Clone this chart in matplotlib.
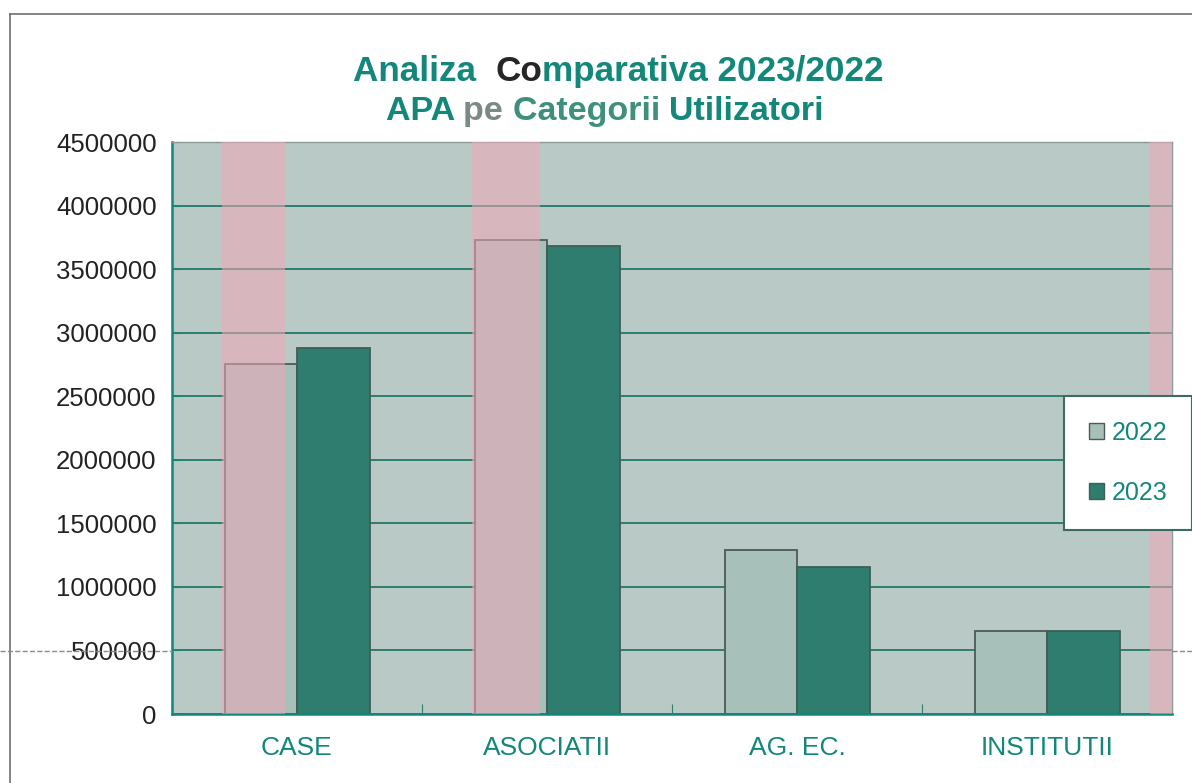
import matplotlib
matplotlib.use("Agg")
import matplotlib.pyplot as plt
from matplotlib.lines import Line2D
from matplotlib.patches import Patch
import numpy as np

categories = ["CASE", "ASOCIATII", "AG. EC.", "INSTITUTII"]
years = ["2022", "2023"]
vals_2022 = [2750000, 3730000, 1290000, 655000]
vals_2023 = [2880000, 3680000, 1160000, 652000]

teal = "#12877a"
teal_dark = "#2f7d6e"
bg = "#b9c9c5"
pink = "#f0a8ba"

plt.rcParams['font.family'] = ['Liberation Sans', 'DejaVu Sans']

fig = plt.figure(figsize=(11.92, 7.83), dpi=100)
ax = fig.add_axes([172/1192, 69/783, 1000/1192, 572/783])
ax.set_facecolor(bg)

x = np.arange(len(categories))
w = 0.29
ax.bar(x - w/2, vals_2022, w, color="#a7c0ba", edgecolor="#4d5b58", linewidth=1.3, zorder=2)
ax.bar(x + w/2, vals_2023, w, color=teal_dark, edgecolor="#3f5e57", linewidth=1.3, zorder=2)

# scan tint stripes
for a, b in [(-0.30, -0.05), (0.70, 0.97), (3.41, 3.5)]:
    ax.axvspan(a, b, color=pink, alpha=0.55, lw=0, zorder=3)

ax.set_xlim(-0.5, 3.5)
ax.set_ylim(0, 4500000)
ax.set_yticks(np.arange(0, 4500001, 500000))
ax.set_yticklabels([str(v) for v in range(0, 4500001, 500000)], fontsize=18.5, color="#222222")
ax.yaxis.grid(True, color="#2c7e6e", linewidth=1.4, zorder=1)
ax.set_axisbelow(True)
ax.tick_params(axis='y', direction='in', length=6, color=teal, pad=11)

ax.set_xticks([0.5, 1.5, 2.5])
ax.set_xticklabels([])
ax.tick_params(axis='x', which='major', direction='in', length=7, color=teal_dark)
ax.set_xticks(x, minor=True)
ax.set_xticklabels(categories, minor=True, fontsize=19, color=teal)
ax.tick_params(axis='x', which='minor', length=0, pad=16)

ax.spines['left'].set_color(teal)
ax.spines['left'].set_linewidth(1.8)
ax.spines['bottom'].set_color(teal)
ax.spines['bottom'].set_linewidth(1.8)
for s in ['top', 'right']:
    ax.spines[s].set_color("#8d9b98")
    ax.spines[s].set_linewidth(1.0)

handles = [Patch(facecolor="#a7c0ba", edgecolor="#4d5b58", label=years[0]),
           Patch(facecolor=teal_dark, edgecolor="#3f5e57", label=years[1])]
leg = fig.legend(handles=handles, loc='center left', bbox_to_anchor=(1064/1192, 1 - 463/783),
                 fontsize=18, frameon=True, fancybox=False, framealpha=1, borderpad=1.0,
                 borderaxespad=0, labelspacing=1.45, handlelength=0.6, handleheight=0.6,
                 handletextpad=0.3)
leg.get_frame().set_edgecolor("#3d6b62")
leg.get_frame().set_linewidth(1.5)
for t in leg.get_texts():
    t.set_color(teal)

# page frame lines from the scan
fig.add_artist(Line2D([10/1192, 1], [1 - 14/783, 1 - 14/783], color="#6f6f6f", lw=1.2))
fig.add_artist(Line2D([10/1192, 10/1192], [0, 1 - 14/783], color="#6f6f6f", lw=1.2))
fig.add_artist(Line2D([0, 172/1192], [1 - 651/783] * 2, color="#8a8a8a", lw=1, ls='--'))
fig.add_artist(Line2D([1172/1192, 1], [1 - 651/783] * 2, color="#8a8a8a", lw=1, ls='--'))

renderer = fig.canvas.get_renderer()


def colored_line(pieces, xc, y, size):
    texts = []
    for s, c in pieces:
        texts.append(fig.text(0, y, s, color=c, fontsize=size, fontweight='bold', va='baseline'))
    widths = [t.get_window_extent(renderer).width for t in texts]
    total = sum(widths)
    xpix = xc * fig.bbox.width - total / 2
    for t, wd in zip(texts, widths):
        t.set_x(xpix / fig.bbox.width)
        xpix += wd


colored_line([("Analiza  ", teal), ("Co", "#262626"), ("mparativa 2023/2022", teal)],
             618/1192, 1 - 81/783, 25.3)
colored_line([("APA ", teal), ("pe ", "#7b8a87"), ("Categorii ", "#3f8f7f"), ("Utilizatori", teal)],
             605/1192, 1 - 120/783, 24.5)

fig.savefig("out.png", dpi=100)
